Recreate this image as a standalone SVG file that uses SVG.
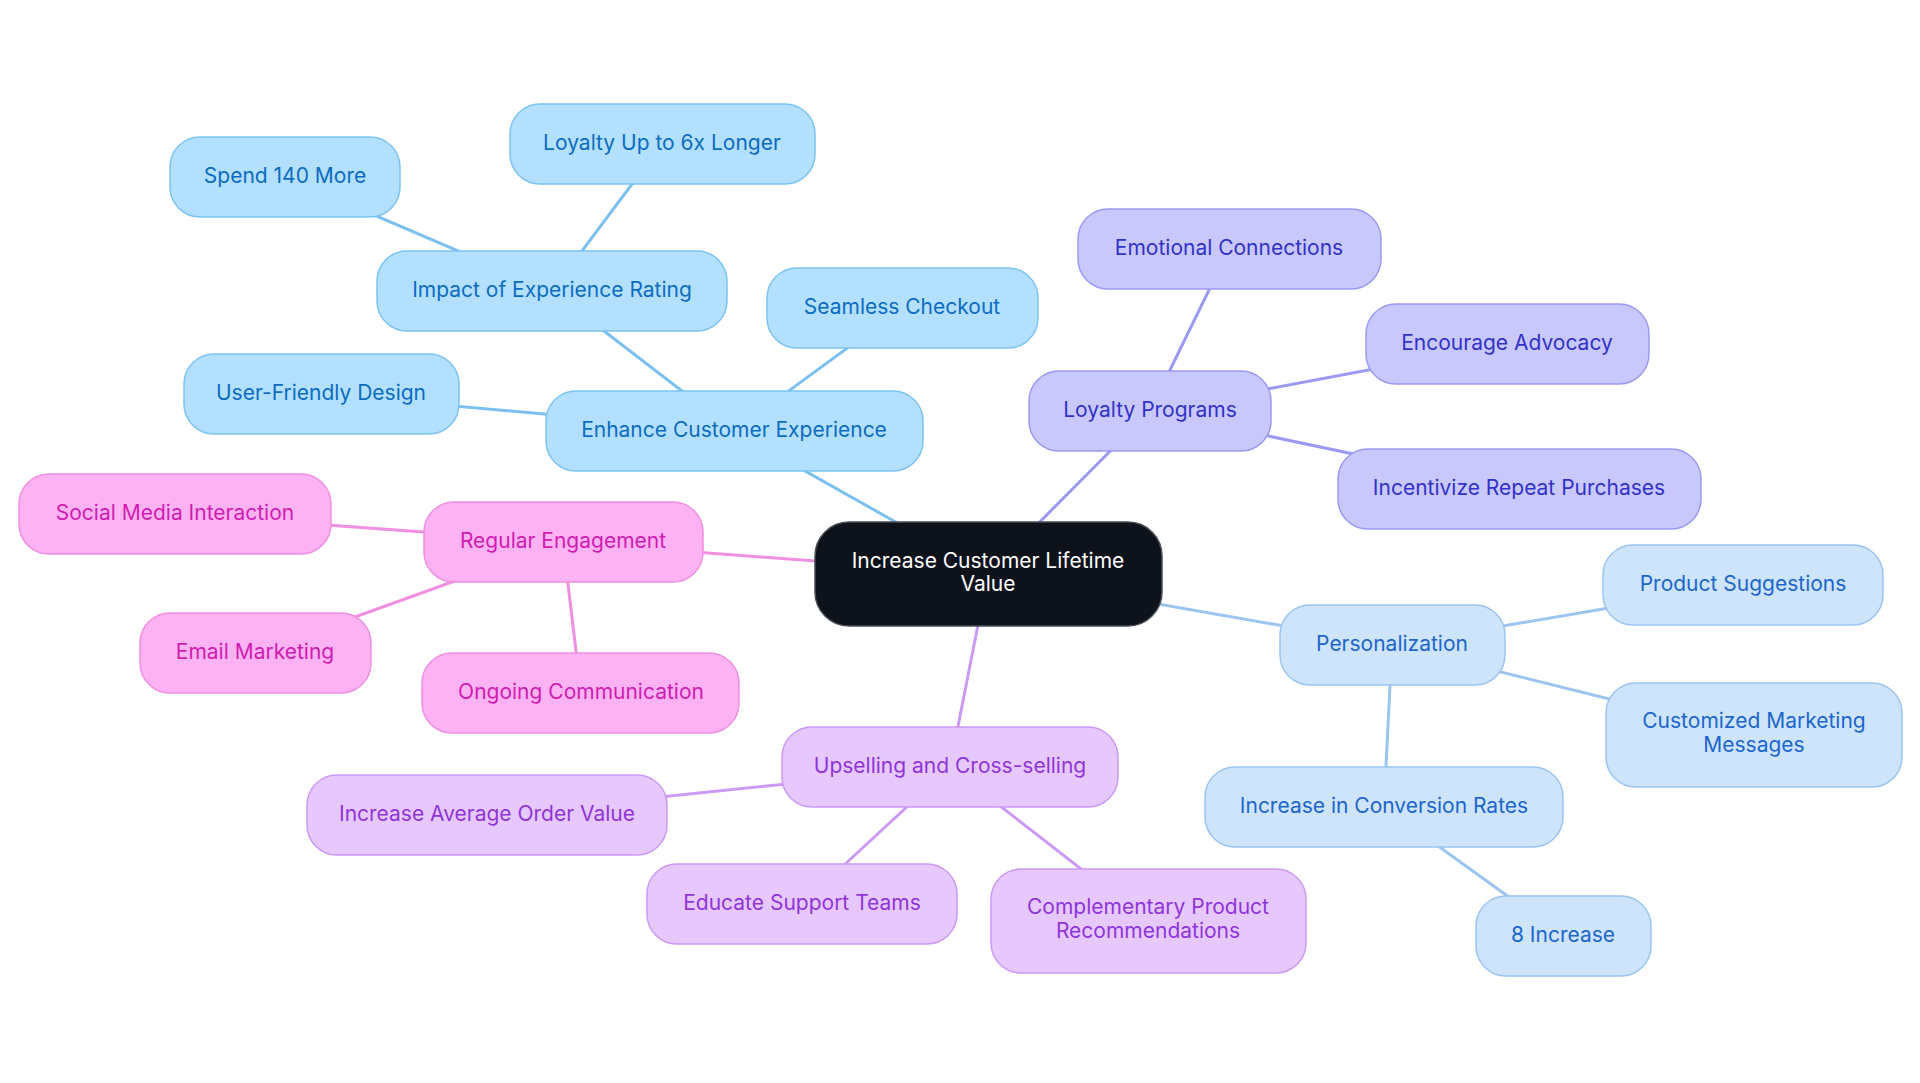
<svg xmlns="http://www.w3.org/2000/svg" width="1920" height="1083" viewBox="0 0 1920 1083">
<style>
text{font-family:Inter,"Open Sans","Liberation Sans",sans-serif;font-size:21px;text-anchor:middle}
.n rect{stroke-width:1.5}
.e line{stroke-width:3;stroke-linecap:round}
.b1 rect{fill:#b3e0ff;stroke:#7cc3f2}.b1 text{fill:#0b6cc0}
.b2 rect{fill:#c8c8fc;stroke:#9a9af2}.b2 text{fill:#3232c8}
.b3 rect{fill:#fdb3f3;stroke:#f08fe0}.b3 text{fill:#d01cb2}
.b4 rect{fill:#e6c8fc;stroke:#cc99f5}.b4 text{fill:#9035d9}
.b5 rect{fill:#cde4fb;stroke:#9bc5f0}.b5 text{fill:#1c66cc}
</style>
<rect width="1920" height="1083" fill="#ffffff"/>
<g id="connectors" class="e">
<line x1="988" y1="574" x2="734" y2="431" stroke="#7cc0f0"/>
<line x1="734" y1="431" x2="552" y2="291" stroke="#7cc0f0"/>
<line x1="734" y1="431" x2="902" y2="308" stroke="#7cc0f0"/>
<line x1="734" y1="431" x2="321" y2="394" stroke="#7cc0f0"/>
<line x1="552" y1="291" x2="285" y2="177" stroke="#7cc0f0"/>
<line x1="552" y1="291" x2="662" y2="144" stroke="#7cc0f0"/>
<line x1="988" y1="574" x2="1150" y2="411" stroke="#9a9af2"/>
<line x1="1150" y1="411" x2="1229" y2="249" stroke="#9a9af2"/>
<line x1="1150" y1="411" x2="1507" y2="344" stroke="#9a9af2"/>
<line x1="1150" y1="411" x2="1519" y2="489" stroke="#9a9af2"/>
<line x1="988" y1="574" x2="1392" y2="645" stroke="#9bc5f0"/>
<line x1="1392" y1="645" x2="1743" y2="585" stroke="#9bc5f0"/>
<line x1="1392" y1="645" x2="1754" y2="735" stroke="#9bc5f0"/>
<line x1="1392" y1="645" x2="1384" y2="807" stroke="#9bc5f0"/>
<line x1="1384" y1="807" x2="1563" y2="936" stroke="#9bc5f0"/>
<line x1="988" y1="574" x2="950" y2="767" stroke="#cc99f5"/>
<line x1="950" y1="767" x2="487" y2="815" stroke="#cc99f5"/>
<line x1="950" y1="767" x2="802" y2="904" stroke="#cc99f5"/>
<line x1="950" y1="767" x2="1148" y2="921" stroke="#cc99f5"/>
<line x1="988" y1="574" x2="563" y2="542" stroke="#f08fe0"/>
<line x1="563" y1="542" x2="174" y2="514" stroke="#f08fe0"/>
<line x1="563" y1="542" x2="255" y2="653" stroke="#f08fe0"/>
<line x1="563" y1="542" x2="581" y2="693" stroke="#f08fe0"/>
</g>
<g id="root" class="n"><rect x="815" y="522" width="347" height="104" rx="34" fill="#0d121b" stroke="#4a4e55" stroke-width="1.5"/><text x="988" y="568" fill="#ffffff">Increase Customer Lifetime</text><text x="988" y="591" fill="#ffffff">Value</text></g>
<g id="enhance" class="n b1"><rect x="546" y="391" width="377" height="80" rx="30"/><text x="734" y="437">Enhance Customer Experience</text></g>
<g id="impact" class="n b1"><rect x="377" y="251" width="350" height="80" rx="30"/><text x="552" y="297">Impact of Experience Rating</text></g>
<g id="spend" class="n b1"><rect x="170" y="137" width="230" height="80" rx="30"/><text x="285" y="183">Spend 140 More</text></g>
<g id="loyaltyup" class="n b1"><rect x="510" y="104" width="305" height="80" rx="30"/><text x="662" y="150">Loyalty Up to 6x Longer</text></g>
<g id="seamless" class="n b1"><rect x="767" y="268" width="271" height="80" rx="30"/><text x="902" y="314">Seamless Checkout</text></g>
<g id="userfriendly" class="n b1"><rect x="184" y="354" width="275" height="80" rx="30"/><text x="321" y="400">User-Friendly Design</text></g>
<g id="loyaltyprog" class="n b2"><rect x="1029" y="371" width="242" height="80" rx="30"/><text x="1150" y="417">Loyalty Programs</text></g>
<g id="emotional" class="n b2"><rect x="1078" y="209" width="303" height="80" rx="30"/><text x="1229" y="255">Emotional Connections</text></g>
<g id="advocacy" class="n b2"><rect x="1366" y="304" width="283" height="80" rx="30"/><text x="1507" y="350">Encourage Advocacy</text></g>
<g id="incentivize" class="n b2"><rect x="1338" y="449" width="363" height="80" rx="30"/><text x="1519" y="495">Incentivize Repeat Purchases</text></g>
<g id="personalization" class="n b5"><rect x="1280" y="605" width="225" height="80" rx="30"/><text x="1392" y="651">Personalization</text></g>
<g id="productsugg" class="n b5"><rect x="1603" y="545" width="280" height="80" rx="30"/><text x="1743" y="591">Product Suggestions</text></g>
<g id="customized" class="n b5"><rect x="1606" y="683" width="296" height="104" rx="30"/><text x="1754" y="728">Customized Marketing</text><text x="1754" y="752">Messages</text></g>
<g id="conversion" class="n b5"><rect x="1205" y="767" width="358" height="80" rx="30"/><text x="1384" y="813">Increase in Conversion Rates</text></g>
<g id="eight" class="n b5"><rect x="1476" y="896" width="175" height="80" rx="30"/><text x="1563" y="942">8 Increase</text></g>
<g id="upselling" class="n b4"><rect x="782" y="727" width="336" height="80" rx="30"/><text x="950" y="773">Upselling and Cross-selling</text></g>
<g id="aov" class="n b4"><rect x="307" y="775" width="360" height="80" rx="30"/><text x="487" y="821">Increase Average Order Value</text></g>
<g id="educate" class="n b4"><rect x="647" y="864" width="310" height="80" rx="30"/><text x="802" y="910">Educate Support Teams</text></g>
<g id="complementary" class="n b4"><rect x="991" y="869" width="315" height="104" rx="30"/><text x="1148" y="914">Complementary Product</text><text x="1148" y="938">Recommendations</text></g>
<g id="regular" class="n b3"><rect x="424" y="502" width="279" height="80" rx="30"/><text x="563" y="548">Regular Engagement</text></g>
<g id="social" class="n b3"><rect x="19" y="474" width="312" height="80" rx="30"/><text x="175" y="520">Social Media Interaction</text></g>
<g id="email" class="n b3"><rect x="140" y="613" width="231" height="80" rx="30"/><text x="255" y="659">Email Marketing</text></g>
<g id="ongoing" class="n b3"><rect x="422" y="653" width="317" height="80" rx="30"/><text x="581" y="699">Ongoing Communication</text></g>
</svg>
